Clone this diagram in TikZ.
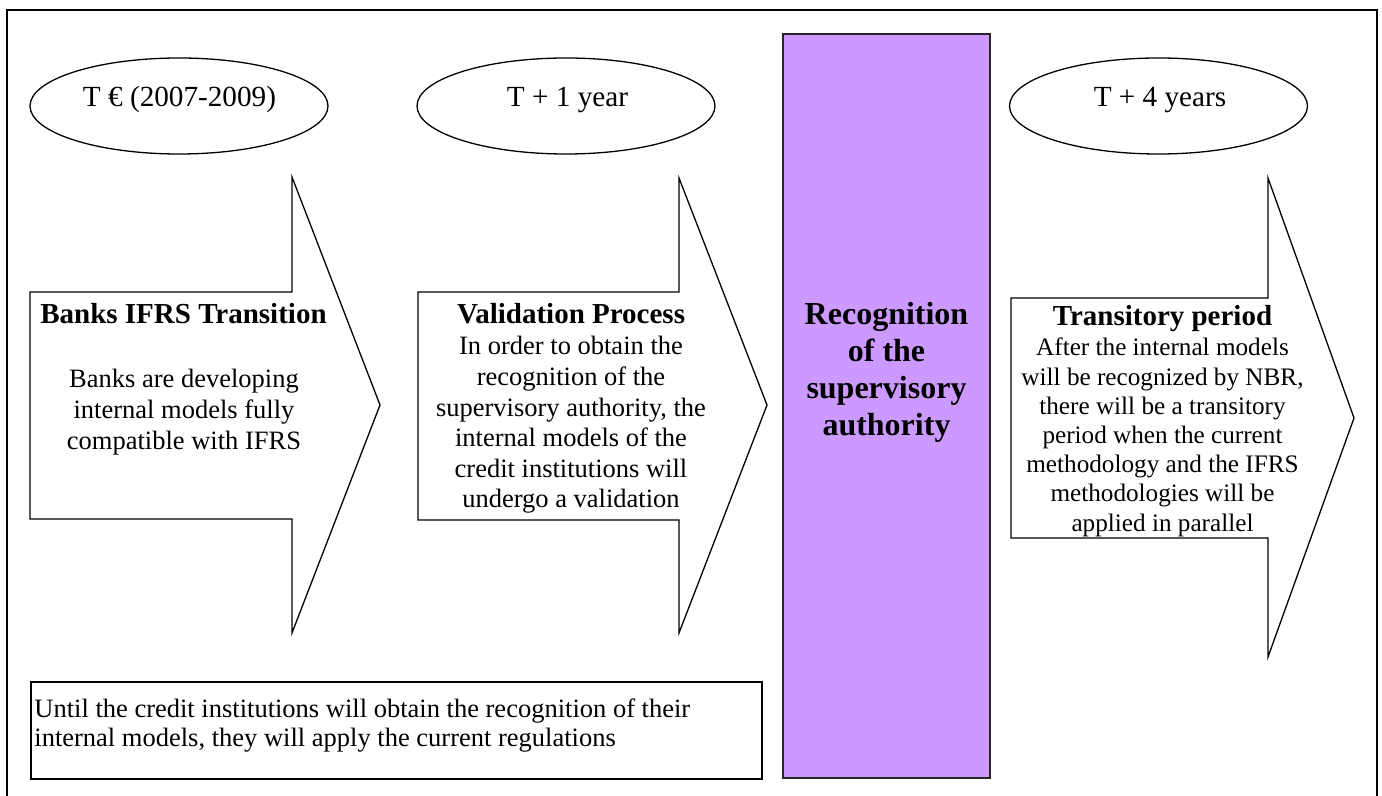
\documentclass[tikz,border=0pt]{standalone}
\usepackage{fontspec}
\setmainfont{Liberation Serif}
\usetikzlibrary{shapes.geometric}
\definecolor{recpurple}{RGB}{204,153,255}
\newcommand\bodyfnt{\fontsize{13.25pt}{15.3pt}\selectfont}
\newcommand\smallbodyfnt{\fontsize{12.6pt}{14.6pt}\selectfont}
\newcommand\titlefnt{\fontsize{14.5pt}{16.7pt}\selectfont\bfseries}
\newcommand\ellfnt{\fontsize{14.6pt}{16.8pt}\selectfont}
\newcommand\recfnt{\fontsize{16pt}{18.35pt}\selectfont\bfseries}
\newcommand\notefnt{\fontsize{13.25pt}{14.8pt}\selectfont}
\begin{document}
\begin{tikzpicture}[x=0.5pt,y=-0.5pt,
  shapeline/.style={draw=black,line width=0.65pt},
  oval/.style={shapeline,ellipse,minimum width=149pt,minimum height=48pt,inner sep=0pt},
  txt/.style={inner sep=0pt,anchor=base}]
\useasboundingbox (0,0) rectangle (1382,796);
% outer frame (bottom edge lies outside the picture)
\coordinate (fbl) at (7,805);
\coordinate (ftl) at (7,10);
\coordinate (ftr) at (1377,10);
\coordinate (fbr) at (1377,805);
\draw[line width=1.35pt] (fbl) -- (ftl) -- (ftr) -- (fbr);
% ellipses
\node[oval] (e1) at (179,106) {};
\node[oval] (e2) at (566,106) {};
\node[oval] (e3) at (1158.5,106) {};
\node[txt,font=\ellfnt] (e1t) at (179.5,107) {T € (2007-2009)};
\node[txt,font=\ellfnt] (e2t) at (567.5,107) {T + 1 year};
\node[txt,font=\ellfnt] (e3t) at (1160,107) {T + 4 years};
% purple box
\node[draw=black!85,line width=0.75pt,fill=recpurple,minimum width=103.5pt,minimum height=372pt,inner sep=0pt] (rec) at (886.5,406) {};
\node[txt] (rect) at (886.5,325) {\recfnt\begin{tabular}[t]{@{}c@{}}Recognition\\of the\\supervisory\\authority\end{tabular}};
% arrows
\coordinate (a1) at (30,292);
\draw[shapeline] (a1) -- (292,292) -- (292,177) -- (380,405) -- (292,633) -- (292,519) -- (30,519) -- cycle;
\coordinate (a2) at (418,292);
\draw[shapeline] (a2) -- (679,292) -- (679,178) -- (767,405) -- (679,633) -- (679,520) -- (418,520) -- cycle;
\coordinate (a3) at (1011,298);
\draw[shapeline] (a3) -- (1268,298) -- (1268,178) -- (1354,418) -- (1268,657) -- (1268,538) -- (1011,538) -- cycle;
% arrow texts
\node[txt,font=\titlefnt] (h1) at (183.5,324) {Banks IFRS Transition};
\node[txt] (b1) at (184,388) {\bodyfnt\begin{tabular}[t]{@{}c@{}}Banks are developing\\internal models fully\\compatible with IFRS\end{tabular}};
\node[txt,font=\titlefnt] (h2) at (571,324) {Validation Process};
\node[txt] (b2) at (571,355) {\bodyfnt\begin{tabular}[t]{@{}c@{}}In order to obtain the\\recognition of the\\supervisory authority, the\\internal models of the\\credit institutions will\\undergo a validation\end{tabular}};
\node[txt,font=\titlefnt] (h3) at (1162.5,326) {Transitory period};
\node[txt] (b3) at (1162.5,356) {\smallbodyfnt\begin{tabular}[t]{@{}c@{}}After the internal models\\will be recognized by NBR,\\there will be a transitory\\period when the current\\methodology and the IFRS\\methodologies will be\\applied in parallel\end{tabular}};
% bottom note
\node[shapeline,rectangle,minimum width=365.5pt,minimum height=48.5pt,inner sep=0pt] (note) at (396.5,730.5) {};
\node[inner sep=0pt,anchor=base west] (notet) at (34,717) {\notefnt\begin{tabular}[t]{@{}l@{}}Until the credit institutions will obtain the recognition of their\\internal models, they will apply the current regulations\end{tabular}};
\end{tikzpicture}
\end{document}
